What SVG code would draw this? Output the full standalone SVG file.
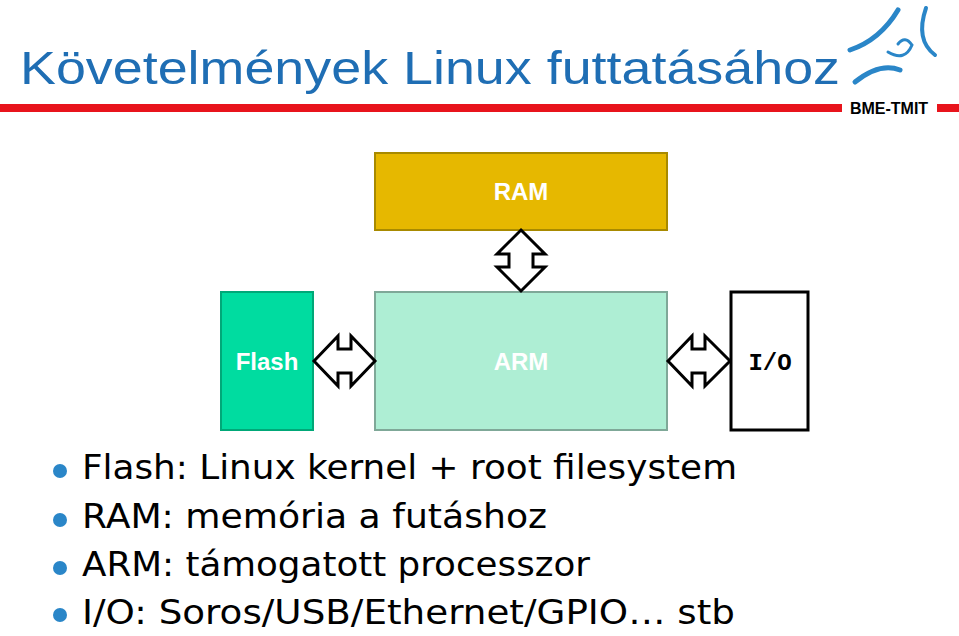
<svg xmlns="http://www.w3.org/2000/svg" width="959" height="636" viewBox="0 0 959 636">
<style>
.arr{fill:#fff;stroke:#000;stroke-width:3;stroke-linejoin:miter}
.lbl{font-family:"Liberation Sans",Arial,sans-serif;font-weight:bold;font-size:24px;fill:#fff;text-anchor:middle}
.bul{font-family:Verdana,"DejaVu Sans",sans-serif;font-size:34px;fill:#000}
</style>
<rect width="959" height="636" fill="#fff"/>
<text x="20" y="84" font-family="'Liberation Sans',Arial,sans-serif" font-size="46" fill="#1f6eb4" textLength="820" lengthAdjust="spacingAndGlyphs">Követelmények Linux futtatásához</text>
<rect x="0" y="104" width="842" height="8" fill="#e8141c"/>
<rect x="937" y="104" width="22" height="8" fill="#e8141c"/>
<text x="889" y="114" font-family="'Liberation Sans',Arial,sans-serif" font-weight="bold" font-size="16" text-anchor="middle" fill="#000">BME-TMIT</text>
<g fill="none" stroke="#2a86c8" stroke-linecap="round">
<path d="M850 50 Q880 40 898 10" stroke-width="5"/>
<path d="M926 8 Q915 40 935 55" stroke-width="4"/>
<path d="M888 52 Q905 62 912 45 Q905 35 898 44" stroke-width="3"/>
<path d="M855 82 Q880 62 900 70" stroke-width="5"/>
</g>
<g id="ram"><rect x="375" y="153" width="292" height="77" fill="#e6b800" stroke="#a88a00" stroke-width="2"/><text class="lbl" x="521" y="200">RAM</text></g>
<g id="flash"><rect x="221" y="292" width="92" height="138" fill="#00dca0" stroke="#00a878" stroke-width="2"/><text class="lbl" x="267" y="370">Flash</text></g>
<g id="arm"><rect x="375" y="292" width="292" height="138" fill="#aeeed4" stroke="#7fa898" stroke-width="2"/><text class="lbl" x="521" y="370">ARM</text></g>
<g id="io"><rect x="731" y="292" width="77" height="138" fill="#fff" stroke="#000" stroke-width="3"/><text x="770" y="370" font-family="'Liberation Mono','DejaVu Sans Mono',monospace" font-weight="bold" font-size="24" text-anchor="middle" fill="#000">I/O</text></g>
<g id="connectors">
<path class="arr" d="M521 230 L545 254 L533 254 L533 267 L545 267 L521 291 L497 267 L509 267 L509 254 L497 254 Z"/>
<path class="arr" d="M314 361 L338 336 L338 349 L351 349 L351 336 L375 361 L351 386 L351 373 L338 373 L338 386 Z"/>
<path class="arr" d="M668 361 L692 336 L692 349 L705 349 L705 336 L730 361 L705 386 L705 373 L692 373 L692 386 Z"/>
</g>
<g fill="#2a86c8"><circle cx="60" cy="471" r="7"/><circle cx="60" cy="520" r="7"/><circle cx="60" cy="568" r="7"/><circle cx="60" cy="615" r="7"/></g>
<text class="bul" x="82" y="479" textLength="655" lengthAdjust="spacingAndGlyphs">Flash: Linux kernel + root filesystem</text>
<text class="bul" x="82" y="528" textLength="465" lengthAdjust="spacingAndGlyphs">RAM: memória a futáshoz</text>
<text class="bul" x="82" y="576" textLength="508" lengthAdjust="spacingAndGlyphs">ARM: támogatott processzor</text>
<text class="bul" x="82" y="624" textLength="653" lengthAdjust="spacingAndGlyphs">I/O: Soros/USB/Ethernet/GPIO… stb</text>
</svg>
